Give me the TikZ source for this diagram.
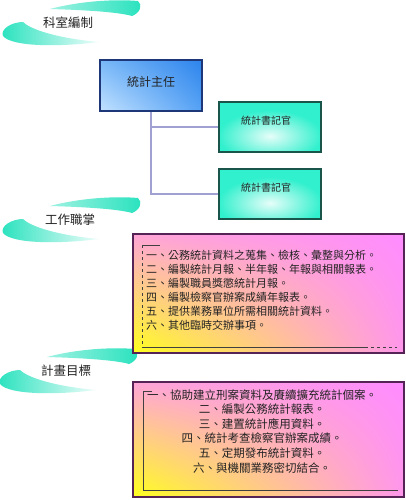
\documentclass[tikz,border=0pt]{standalone}
\usepackage{fontspec}
\usetikzlibrary{shadings}
\newfontfamily\cjk{Noto Sans CJK TC}
\definecolor{turq}{RGB}{40,226,190}
\definecolor{turqbox}{RGB}{48,240,205}
\definecolor{navyb}{RGB}{30,55,120}
\definecolor{tealb}{RGB}{25,85,75}
\definecolor{connc}{RGB}{160,160,210}
\definecolor{purb}{RGB}{85,35,85}
\definecolor{txt}{RGB}{35,35,35}
\definecolor{bul}{RGB}{195,226,255}
\definecolor{bur}{RGB}{85,162,245}
\definecolor{bll}{RGB}{120,184,248}
\definecolor{blr}{RGB}{45,132,236}
\definecolor{pul}{RGB}{255,255,30}
\definecolor{pur}{RGB}{255,150,235}
\definecolor{pll}{RGB}{255,165,215}
\definecolor{plr}{RGB}{255,140,255}
\tikzset{
  swoosh/.pic={
    \shade[left color=turq!45!white, right color=turq]
      (50,9) .. controls (80,1) and (115,-1) .. (138,1)
      .. controls (143,5) and (140,13) .. (132,16)
      .. controls (118,12) and (85,10) .. (50,9) -- cycle;
    \shade[left color=turq, right color=turq!8!white]
      (99,42) .. controls (60,47) and (12,47) .. (3,36)
      .. controls (0,29) and (12,22) .. (23,22)
      .. controls (30,29) and (55,38) .. (99,42) -- cycle;
  },
  ttl/.style={font=\cjk\fontsize{12.5}{14}\selectfont, text=txt, inner sep=0},
  bluebox/.style={draw=navyb, line width=1.6pt, minimum width=102pt, minimum height=51pt, inner sep=0,
    upper left=bll, upper right=blr, lower left=bul, lower right=bur},
  tealbox/.style={draw=tealb, line width=1.2pt, minimum width=102pt, minimum height=50pt, inner sep=0,
    path picture={
      \fill[turqbox] (path picture bounding box.south west) rectangle (path picture bounding box.north east);
      \shade[inner color=turqbox!12!white, outer color=turqbox]
        ([yshift=-9pt]path picture bounding box.center) ellipse [x radius=52pt, y radius=26pt];
    }},
  pinkbox/.style={draw=purb, line width=1.3pt, minimum width=271pt, inner sep=0,
    upper left=pll, upper right=plr, lower left=pul, lower right=pur},
  conn/.style={draw=connc, line width=1.3pt},
  brk/.style={draw=black!75, line width=0.7pt},
  itemtxt/.style={font=\cjk\fontsize{#1}{14}\selectfont, text=txt, inner sep=0},
  boxtxt/.style={font=\cjk\fontsize{#1}{14}\selectfont, text=txt, inner sep=0},
}
\begin{document}
\begin{tikzpicture}[x=1pt,y=-1pt]
\useasboundingbox[fill=white] (0,0) rectangle (406,500);

% section headers
\pic (s1) at (0,0) {swoosh};
\node[ttl] (t1) at (68,23) {科室編制};
\pic (s2) at (0,197) {swoosh};
\node[ttl] (t2) at (70,220) {工作職掌};
\pic (s3) at (-3,348) {swoosh};
\node[ttl] (t3) at (66,371) {計畫目標};

% org chart
\node[bluebox] (b1) at (151,85.5) {};
\node[boxtxt=12] (b1t) at (151,82) {統計主任};
\node[tealbox] (b2a) at (270,127) {};
\node[boxtxt=10] (b2at) at (266,121) {統計書記官};
\node[tealbox] (b2b) at (270,194) {};
\node[boxtxt=10] (b2bt) at (266,188) {統計書記官};
\draw[conn] (b1.south) |- (b2b.west);
\draw[conn] (b1.south |- b2a.west) -- (b2a.west);

% duties
\node[pinkbox, minimum height=119pt] (p1) at (268.5,293.5) {};
\coordinate (k1a) at (142,245);
\coordinate (k1b) at (142,347);
\coordinate (k1c) at (365,347);
\coordinate (k1d) at (397,347);
\draw[brk] (k1a) -- ++(18,0);
\draw[brk, dashed] (k1a) -- (k1b);
\draw[brk] (k1b) -- (k1c);
\draw[brk, dashed] (k1c) -- (k1d);
\node[itemtxt=11, anchor=base west] (d1) at (146,259) {一、公務統計資料之蒐集、檢核、彙整與分析。};
\node[itemtxt=11, anchor=base west] (d2) at (146,273) {二、編製統計月報、半年報、年報與相關報表。};
\node[itemtxt=11, anchor=base west] (d3) at (146,287) {三、編製職員獎懲統計月報。};
\node[itemtxt=11, anchor=base west] (d4) at (146,301) {四、編製檢察官辦案成績年報表。};
\node[itemtxt=11, anchor=base west] (d5) at (146,315) {五、提供業務單位所需相關統計資料。};
\node[itemtxt=11, anchor=base west] (d6) at (146,329) {六、其他臨時交辦事項。};

% plans
\node[pinkbox, minimum height=115pt] (p2) at (268.5,439.5) {};
\coordinate (k2a) at (152,391);
\coordinate (k2b) at (143,391);
\coordinate (k2c) at (143,490);
\coordinate (k2d) at (398,490);
\draw[brk] (k2a) -- (k2b) -- (k2c) -- (k2d);
\node[itemtxt=11.5, anchor=base] (g1) at (262,399) {一、協助建立刑案資料及賡續擴充統計個案。};
\node[itemtxt=11.5, anchor=base] (g2) at (262,413.6) {二、編製公務統計報表。};
\node[itemtxt=11.5, anchor=base] (g3) at (262,428.2) {三、建置統計應用資料。};
\node[itemtxt=11.5, anchor=base] (g4) at (262,442.8) {四、統計考查檢察官辦案成績。};
\node[itemtxt=11.5, anchor=base] (g5) at (262,457.4) {五、定期發布統計資料。};
\node[itemtxt=11.5, anchor=base] (g6) at (262,472) {六、與機關業務密切結合。};
\end{tikzpicture}
\end{document}
